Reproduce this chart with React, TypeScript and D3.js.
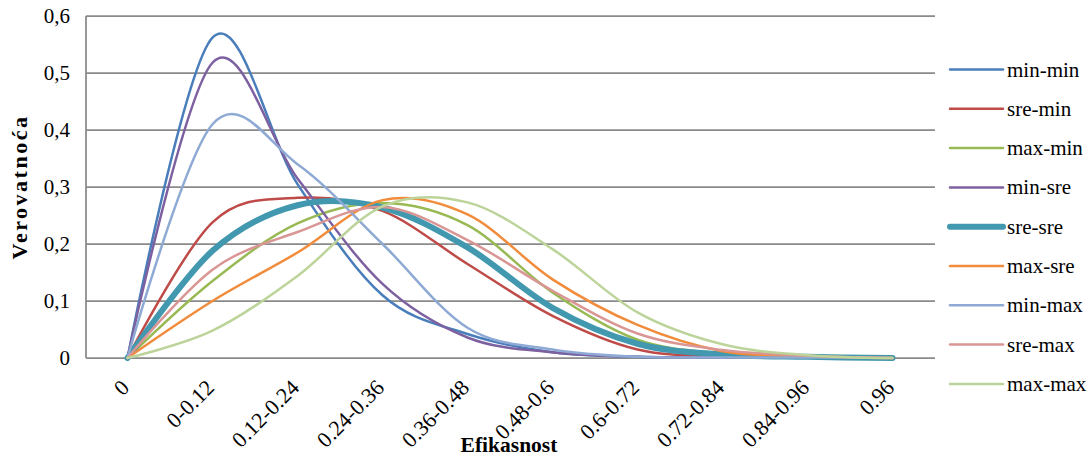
import React from "react";
import * as d3 from "d3";

const categories = ["0", "0-0.12", "0.12-0.24", "0.24-0.36", "0.36-0.48", "0.48-0.6", "0.6-0.72", "0.72-0.84", "0.84-0.96", "0.96"];
const yTicks = [0, 0.1, 0.2, 0.3, 0.4, 0.5, 0.6];

const minMin = [0, 0.562, 0.305, 0.11, 0.042, 0.01, 0.002, 0.001, 0.001, 0];
const sreMin = [0, 0.238, 0.281, 0.258, 0.165, 0.074, 0.015, 0.003, 0.001, 0];
const maxMin = [0, 0.135, 0.236, 0.272, 0.233, 0.115, 0.032, 0.008, 0.002, 0];
const minSre = [0, 0.518, 0.315, 0.13, 0.036, 0.01, 0.002, 0.001, 0.001, 0];
const sreSre = [0, 0.188, 0.268, 0.264, 0.194, 0.088, 0.025, 0.006, 0.002, 0];
const maxSre = [0, 0.1, 0.185, 0.277, 0.252, 0.138, 0.058, 0.012, 0.003, 0];
const minMax = [0, 0.41, 0.34, 0.2, 0.053, 0.015, 0.002, 0.001, 0.001, 0];
const sreMax = [0, 0.155, 0.221, 0.265, 0.207, 0.118, 0.043, 0.014, 0.004, 0];
const maxMax = [0, 0.048, 0.144, 0.266, 0.273, 0.191, 0.08, 0.024, 0.005, 0];

const seriesNames = ["min-min", "sre-min", "max-min", "min-sre", "sre-sre", "max-sre", "min-max", "sre-max", "max-max"];
const seriesValues = [minMin, sreMin, maxMin, minSre, sreSre, maxSre, minMax, sreMax, maxMax];
const seriesColors = ["#4a7ebb", "#be4b48", "#98b954", "#7d60a0", "#4198af", "#f08c3c", "#8eaad4", "#d99694", "#bcd49a"];
const seriesWidths = [2.5, 2.5, 2.5, 2.5, 6, 2.5, 2.5, 2.5, 2.5];

const W = 1091;
const H = 457;
const plotLeft = 85;
const plotRight = 935;
const plotTop = 16;
const plotBottom = 358;
const font = "Liberation Serif, Times New Roman, Tinos, DejaVu Serif, serif";
const textStyle = { fontFamily: font, fontSize: "21px" };
const xLabelStyle = { fontFamily: font, fontSize: "22px" };

export default function App() {
  const x = d3.scaleBand<string>().domain(categories).range([plotLeft, plotRight]).padding(0);
  const xc = (c: string) => (x(c) as number) + x.bandwidth() / 2;
  const y = d3.scaleLinear().domain([0, 0.6]).range([plotBottom, plotTop]);

  const line = d3
    .line<number>()
    .x((_, i) => xc(categories[i]))
    .y((d) => y(d))
    .curve(d3.curveCatmullRom.alpha(0));

  const legendX = 950;
  const legendY0 = 69.5;
  const legendStep = 39.3;

  return (
    <svg width={W} height={H} style={{ position: "absolute", left: 0, top: 0, background: "#fff" }}>
      {yTicks.map((t) => (
        <g key={t}>
          <line x1={plotLeft + 1} x2={plotRight} y1={y(t)} y2={y(t)} stroke="#8a8a8a" strokeWidth={1.75} />
          <text x={70} y={y(t) + 7} textAnchor="end" style={textStyle} fill="#000">
            {String(t).replace(".", ",")}
          </text>
        </g>
      ))}
      <line x1={plotLeft + 1} x2={plotLeft + 1} y1={plotTop} y2={plotBottom} stroke="#8a8a8a" strokeWidth={1.75} />

      {seriesValues.map((vals, i) => (
        <path
          key={seriesNames[i]}
          d={line(vals) || ""}
          fill="none"
          stroke={seriesColors[i]}
          strokeWidth={seriesWidths[i]}
          strokeLinecap="round"
          strokeLinejoin="round"
        />
      ))}

      {categories.map((c) => (
        <text
          key={c}
          transform={`translate(${xc(c) + 3},${plotBottom + 31}) rotate(-45)`}
          textAnchor="end"
          style={xLabelStyle}
          fill="#000"
        >
          {c}
        </text>
      ))}

      <text x={509} y={452} textAnchor="middle" style={{ fontFamily: font, fontSize: "21.5px" }} fontWeight="bold" fill="#000">
        Efikasnost
      </text>
      <text
        transform={`translate(27,${(plotTop + plotBottom) / 2}) rotate(-90)`}
        textAnchor="middle"
        style={{ fontFamily: font, fontSize: "22px", letterSpacing: "2.5px" }}
        fontWeight="bold"
        fill="#000"
      >
        Verovatnoća
      </text>

      {seriesNames.map((n, i) => {
        const ly = legendY0 + i * legendStep;
        return (
          <g key={n}>
            <line x1={legendX} x2={legendX + 53} y1={ly} y2={ly} stroke={seriesColors[i]} strokeWidth={seriesWidths[i]} strokeLinecap="round" />
            <text x={legendX + 57} y={ly + 7} style={textStyle} fill="#000">
              {n}
            </text>
          </g>
        );
      })}
    </svg>
  );
}
